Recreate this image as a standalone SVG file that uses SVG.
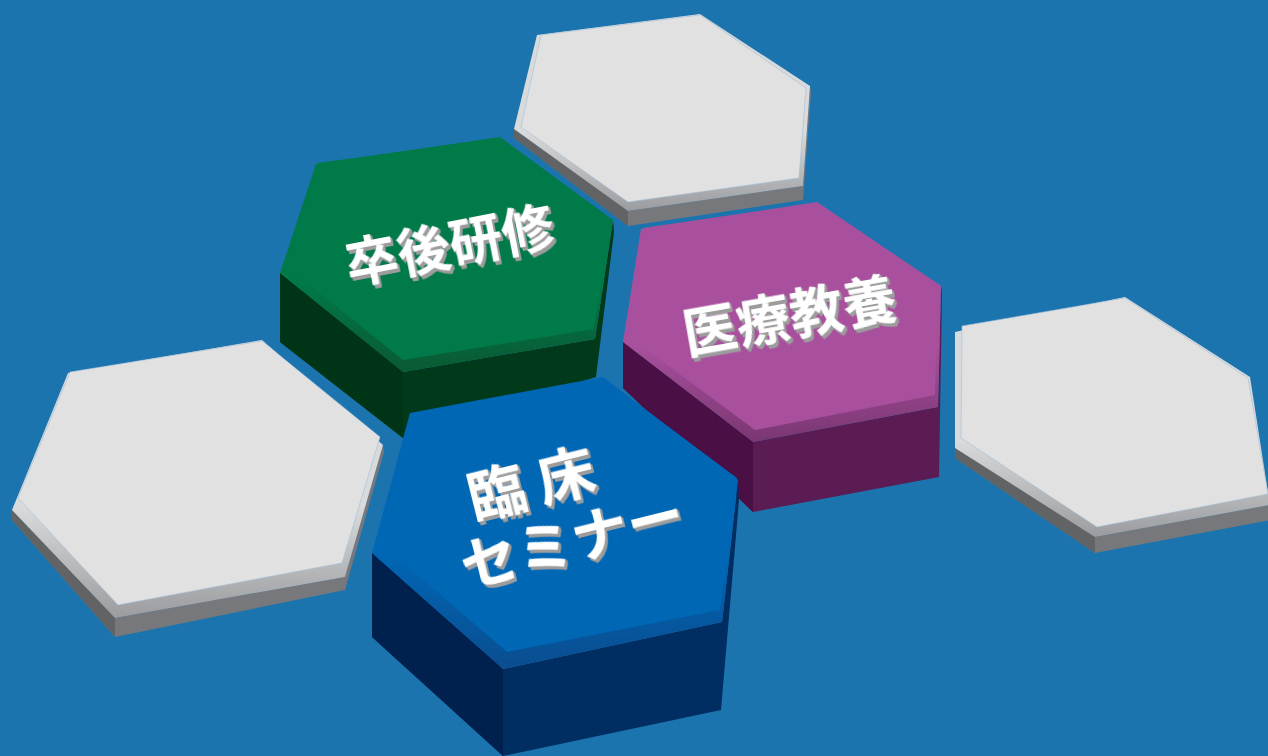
<svg xmlns="http://www.w3.org/2000/svg" width="1268" height="756" viewBox="0 0 1268 756">
<style>
.lbl{font-family:"Noto Sans CJK JP","Noto Sans CJK SC",sans-serif;font-weight:700;fill:#ffffff;text-anchor:middle;dominant-baseline:central;filter:url(#ext)}
.gface{fill:#E1E1E1}.gbev{fill:url(#gbevG)}.gside{fill:#76787B}.gleft{fill:#626365}
.edge{stroke:#9fc0d8;stroke-width:0.6}
</style>
<defs>
<filter id="ext" x="-10%" y="-30%" width="130%" height="170%">
<feOffset in="SourceAlpha" dx="0.8" dy="1.2" result="o1"/>
<feOffset in="SourceAlpha" dx="1.6" dy="2.4" result="o2"/>
<feOffset in="SourceAlpha" dx="2.4" dy="3.6" result="o3"/>
<feMerge result="m"><feMergeNode in="o1"/><feMergeNode in="o2"/><feMergeNode in="o3"/></feMerge>
<feFlood flood-color="#9c9c9c"/>
<feComposite operator="in" in2="m" result="sh"/>
<feMerge><feMergeNode in="sh"/><feMergeNode in="SourceGraphic"/></feMerge>
</filter>
<linearGradient id="gbevG" x1="0" y1="0" x2="0" y2="1"><stop offset="0.6" stop-color="#D9DADB"/><stop offset="1" stop-color="#9A9C9F"/></linearGradient>
<linearGradient id="grbev" x1="0" y1="0" x2="0" y2="1"><stop offset="0.6" stop-color="#007A48"/><stop offset="1" stop-color="#0A5A33"/></linearGradient>
<linearGradient id="pubev" x1="0" y1="0" x2="0" y2="1"><stop offset="0.6" stop-color="#A8509D"/><stop offset="1" stop-color="#7A3672"/></linearGradient>
<linearGradient id="blbev" x1="0" y1="0" x2="0" y2="1"><stop offset="0.6" stop-color="#0067B5"/><stop offset="1" stop-color="#0A4D90"/></linearGradient>
</defs>
<rect width="1268" height="756" fill="#1C74AF"/>

<g id="hex-top-gray">
<polygon class="gside" points="514,129 628,211 803,186 810,86 811,92 803,200 628,226 514,138"/>
<polygon class="gleft" points="514,129 628,211 628,226 514,138"/>
<polygon class="gbev" points="537,35 700,14 810,86 803,186 628,211 514,129"/>
<polygon class="gface edge" points="541,35 700,15 806,88 799,178 628,202 521,127"/>
</g>

<g id="hex-left-gray">
<polygon class="gside" points="12,510 115,618 345,577 383,445 384,452 345,590 115,637 12,520"/>
<polygon class="gleft" points="12,510 115,618 115,637 12,520"/>
<polygon class="gbev" points="68,373 262,340 383,445 345,577 115,618 12,510"/>
<polygon class="gface edge" points="70,372 262,341 380,437 342,563 118,605 18,498"/>
</g>

<g id="hex-right-gray">
<polygon class="gside" points="955,448 1095,537 1270,505 1270,520 1095,553 955,458"/>
<polygon class="gleft" points="955,448 1095,537 1095,553 955,458"/>
<polygon class="gbev" points="955,332 1125,297 1250,377 1270,505 1095,537 955,448"/>
<polygon class="gface edge" points="962,326 1125,298 1248,378 1268,494 1097,527 961,438"/>
</g>

<g id="hex-green">
<polygon fill="#003A1A" points="280,273 403,372 595,339 613,220 614,232 596,377 403,438 280,342"/>
<polygon fill="#003417" points="280,273 403,372 403,438 280,342"/>
<polygon fill="url(#grbev)" points="316,164 500,137 613,220 595,339 403,372 280,273"/>
<polygon fill="#007A48" points="318,163 500,138 611,219 594,329 403,360 287,267"/>
<text class="lbl" font-size="53" transform="translate(449,242) rotate(-11)">卒後研修</text>
</g>

<g id="hex-purple">
<polygon fill="#5B1B53" points="623,342 753,442 938,407 941,286 942,292 939,477 753,512 623,388"/>
<polygon fill="#4A0F45" points="623,342 753,442 753,512 623,388"/>
<polygon fill="url(#pubev)" points="641,229 817,202 941,286 938,407 753,442 623,342"/>
<polygon fill="#A8509D" points="643,228 817,203 938,284 935,395 755,430 627,335"/>
<text class="lbl" font-size="54" transform="translate(789,312) rotate(-10)">医療教養</text>
</g>

<g id="hex-blue">
<polygon fill="#002E62" points="372,553 503,669 722,622 738,480 739,500 721,710 503,756 372,637"/>
<polygon fill="#00204E" points="372,553 503,669 503,756 372,637"/>
<polygon fill="url(#blbev)" points="410,413 603,377 738,480 722,622 503,669 372,553"/>
<polygon fill="#0067B5" points="413,413 603,378 737,478 720,610 507,652 380,543"/>
<text class="lbl" font-size="57" transform="translate(571,536) rotate(-14)"><tspan x="-26" y="-64" font-size="58">臨 床</tspan><tspan x="0" y="0">セミナー</tspan></text>
</g>
</svg>
